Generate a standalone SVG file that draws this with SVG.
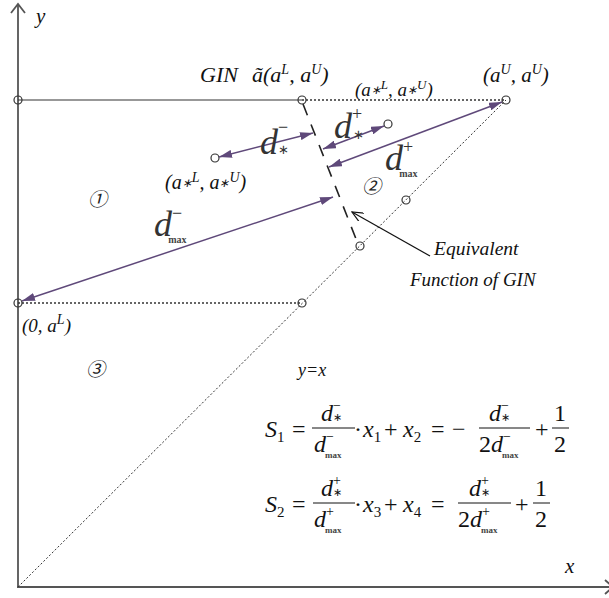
<svg xmlns="http://www.w3.org/2000/svg" width="609" height="598" viewBox="0 0 609 598">
<style>
.ax{stroke:#555;stroke-width:1.8;fill:none}
.ln{stroke:#333;stroke-width:1.2;fill:none}
.dot{stroke:#333;stroke-width:1.3;stroke-dasharray:2,2;fill:none}
.dot2{stroke:#333;stroke-width:1;stroke-dasharray:2,2;fill:none}
.pt{stroke:#333;stroke-width:1.2;fill:none}
.pu{stroke:#5F497A;stroke-width:1.5;fill:none}
.t{font-family:"Liberation Serif","Times New Roman",serif;font-style:italic;fill:#111}
.r{font-family:"Liberation Serif","Times New Roman",serif;fill:#111}
.dd{font-family:"Liberation Serif","Times New Roman",serif;font-style:italic;fill:#333;font-size:36px}
.up{font-style:normal}
.mx{font-style:normal;font-weight:bold;fill:#444}
.cn{font-family:"Noto Sans CJK JP","DejaVu Sans",sans-serif;font-style:italic;fill:#222;font-size:19px}
.bar{stroke:#111;stroke-width:1}
</style>
<defs>
<marker id="ap" viewBox="0 0 13 8" refX="13" refY="4" markerWidth="13" markerHeight="8" markerUnits="userSpaceOnUse" orient="auto-start-reverse"><path d="M0,0 L13,4 L0,8 z" fill="#5F497A"/></marker>
<marker id="ab" viewBox="0 0 12 10" refX="11" refY="5" markerWidth="12" markerHeight="10" markerUnits="userSpaceOnUse" orient="auto"><path d="M0,0 L11,5 L0,10" fill="none" stroke="#111" stroke-width="1.2"/></marker>
</defs>

<g id="axes">
<line class="ax" x1="18" y1="587" x2="18" y2="4"/>
<polyline class="ax" points="11,13 18,4 25,13"/>
<line class="ax" x1="17" y1="587" x2="609" y2="587"/>
<polyline class="ax" points="605,580 613,587 605,594"/>
<text class="t" x="36" y="23" font-size="21">y</text>
<text class="t" x="565" y="573" font-size="21">x</text>
</g>

<g id="guides">
<line class="ln" x1="18" y1="100" x2="302" y2="100"/>
<line class="dot" x1="302" y1="100" x2="506" y2="100"/>
<line class="dot" x1="18" y1="303" x2="302" y2="303"/>
<line class="dot2" x1="18" y1="587" x2="506" y2="100"/>
<line stroke="#222" stroke-width="1.6" stroke-dasharray="12,10" x1="303" y1="104" x2="358" y2="244"/>
</g>

<g id="points">
<circle class="pt" cx="18" cy="100" r="4"/>
<circle class="pt" cx="302" cy="100" r="4"/>
<circle class="pt" cx="506" cy="100" r="4"/>
<circle class="pt" cx="18" cy="303" r="4"/>
<circle class="pt" cx="302" cy="303" r="4"/>
<circle class="pt" cx="215" cy="158" r="4"/>
<circle class="pt" cx="388" cy="124" r="4"/>
<circle class="pt" cx="406" cy="200" r="4"/>
<circle class="pt" cx="360" cy="246" r="4"/>
</g>

<g id="connectors">
<line class="pu" x1="219" y1="157" x2="313" y2="133" marker-start="url(#ap)" marker-end="url(#ap)"/>
<line class="pu" x1="384" y1="126" x2="323" y2="149" marker-start="url(#ap)" marker-end="url(#ap)"/>
<line class="pu" x1="502" y1="102" x2="329" y2="167" marker-start="url(#ap)" marker-end="url(#ap)"/>
<line class="pu" x1="22" y1="301" x2="333" y2="197" marker-start="url(#ap)" marker-end="url(#ap)"/>
<line stroke="#111" stroke-width="1.2" x1="430" y1="256" x2="352" y2="212" marker-end="url(#ab)"/>
</g>

<g id="labels">
<text class="t" x="200" y="82" font-size="22">GIN</text>
<text class="t" x="252" y="82" font-size="22">ã(a<tspan dy="-8" font-size="14">L</tspan><tspan dy="8">, a</tspan><tspan dy="-8" font-size="14">U</tspan><tspan dy="8">)</tspan></text>
<text class="t" x="483" y="82" font-size="21">(a<tspan dy="-8" font-size="14">U</tspan><tspan dy="8">, a</tspan><tspan dy="-8" font-size="14">U</tspan><tspan dy="8">)</tspan></text>
<text class="t" x="355" y="96" font-size="19">(a<tspan font-size="12" dy="-2">∗</tspan><tspan font-size="13" dy="-5">L</tspan><tspan dy="7">, a</tspan><tspan font-size="12" dy="-2">∗</tspan><tspan font-size="13" dy="-5">U</tspan><tspan dy="7">)</tspan></text>
<text class="t" x="165" y="189" font-size="20">(a<tspan font-size="12" dy="-2">∗</tspan><tspan font-size="14" dy="-5">L</tspan><tspan dy="7">, a</tspan><tspan font-size="12" dy="-2">∗</tspan><tspan font-size="14" dy="-5">U</tspan><tspan dy="7">)</tspan></text>
<text class="t" x="22" y="332" font-size="19">(0, a<tspan dy="-8" font-size="14">L</tspan><tspan dy="8">)</tspan></text>
<text class="t" x="298" y="376" font-size="18">y=x</text>
<text class="t" x="434" y="255" font-size="19.5">Equivalent</text>
<text class="t" x="410" y="286" font-size="19">Function of GIN</text>
<text class="cn" x="88" y="206">①</text>
<text class="cn" x="362" y="193">②</text>
<text class="cn" x="86" y="376">③</text>
</g>

<g id="distances">
<text class="dd" x="260" y="154">d<tspan class="up" font-size="18" dy="-21">−</tspan><tspan class="up" font-size="13" dx="-10" dy="21">∗</tspan></text>
<text class="dd" x="334" y="138">d<tspan class="up" font-size="18" dy="-18">+</tspan><tspan class="up" font-size="13" dx="-9" dy="19">∗</tspan></text>
<text class="dd" x="385" y="170">d<tspan class="up" font-size="18" dy="-17">+</tspan><tspan class="mx" font-size="10" dx="-14" dy="24">max</tspan></text>
<text class="dd" x="154" y="236">d<tspan class="up" font-size="18" dy="-17">−</tspan><tspan class="mx" font-size="10" dx="-14" dy="24">max</tspan></text>
</g>

<g id="eq1">
<text class="t" x="265" y="437" font-size="24">S<tspan class="up" font-size="15" dy="5">1</tspan></text>
<text class="r" x="292" y="437" font-size="24">=</text>
<line class="bar" x1="312" y1="428" x2="355" y2="428"/>
<text class="t" x="321" y="421" font-size="24">d<tspan class="up" font-size="14" dy="-11">−</tspan><tspan class="up" font-size="11" dx="-8" dy="11">∗</tspan></text>
<text class="t" x="314" y="452" font-size="24">d<tspan class="up" font-size="14" dy="-11">−</tspan><tspan class="mx" font-size="9" dx="-9" dy="17">max</tspan></text>
<text class="r" x="354" y="437" font-size="24">·</text>
<text class="t" x="363" y="437" font-size="24">x<tspan class="up" font-size="15" dy="5">1</tspan></text>
<text class="r" x="384" y="437" font-size="24">+</text>
<text class="t" x="403" y="437" font-size="24">x<tspan class="up" font-size="15" dy="5">2</tspan></text>
<text class="r" x="431" y="437" font-size="24">=</text>
<text class="r" x="452" y="437" font-size="24">−</text>
<line class="bar" x1="479" y1="428" x2="530" y2="428"/>
<text class="t" x="489" y="421" font-size="24">d<tspan class="up" font-size="14" dy="-11">−</tspan><tspan class="up" font-size="11" dx="-8" dy="11">∗</tspan></text>
<text class="r" x="479" y="452" font-size="24">2<tspan class="t" font-style="italic">d</tspan><tspan class="up" font-size="14" dy="-11">−</tspan><tspan class="mx" font-size="9" dx="-9" dy="17">max</tspan></text>
<text class="r" x="535" y="437" font-size="24">+</text>
<line class="bar" x1="552" y1="428" x2="569" y2="428"/>
<text class="r" x="554" y="421" font-size="24">1</text>
<text class="r" x="554" y="452" font-size="24">2</text>
</g>

<g id="eq2">
<text class="t" x="265" y="512" font-size="24">S<tspan class="up" font-size="15" dy="5">2</tspan></text>
<text class="r" x="292" y="512" font-size="24">=</text>
<line class="bar" x1="313" y1="503" x2="355" y2="503"/>
<text class="t" x="321" y="496" font-size="24">d<tspan class="up" font-size="14" dy="-11">+</tspan><tspan class="up" font-size="11" dx="-8" dy="11">∗</tspan></text>
<text class="t" x="314" y="527" font-size="24">d<tspan class="up" font-size="14" dy="-11">+</tspan><tspan class="mx" font-size="9" dx="-9" dy="17">max</tspan></text>
<text class="r" x="354" y="512" font-size="24">·</text>
<text class="t" x="363" y="512" font-size="24">x<tspan class="up" font-size="15" dy="5">3</tspan></text>
<text class="r" x="384" y="512" font-size="24">+</text>
<text class="t" x="403" y="512" font-size="24">x<tspan class="up" font-size="15" dy="5">4</tspan></text>
<text class="r" x="431" y="512" font-size="24">=</text>
<line class="bar" x1="458" y1="503" x2="511" y2="503"/>
<text class="t" x="469" y="496" font-size="24">d<tspan class="up" font-size="14" dy="-11">+</tspan><tspan class="up" font-size="11" dx="-8" dy="11">∗</tspan></text>
<text class="r" x="458" y="527" font-size="24">2<tspan class="t" font-style="italic">d</tspan><tspan class="up" font-size="14" dy="-11">+</tspan><tspan class="mx" font-size="9" dx="-9" dy="17">max</tspan></text>
<text class="r" x="515" y="512" font-size="24">+</text>
<line class="bar" x1="533" y1="503" x2="550" y2="503"/>
<text class="r" x="535" y="496" font-size="24">1</text>
<text class="r" x="535" y="527" font-size="24">2</text>
</g>
</svg>
